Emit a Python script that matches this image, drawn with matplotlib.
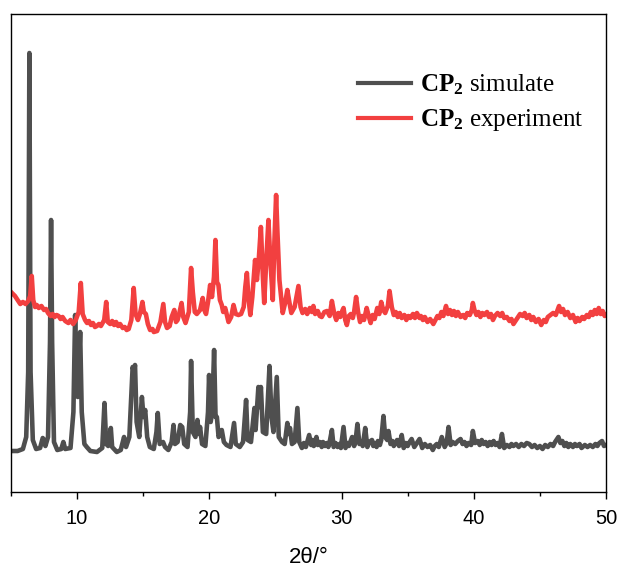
import numpy as np
import matplotlib
matplotlib.use('Agg')
import matplotlib.pyplot as plt

plt.rcParams['font.family'] = ['Liberation Sans', 'DejaVu Sans']
plt.rcParams['mathtext.fontset'] = 'custom'
plt.rcParams['mathtext.rm'] = 'Liberation Serif'
plt.rcParams['mathtext.bf'] = 'Liberation Serif:bold'

# simulated pattern (2theta, intensity a.u.)
sim_points = [
    (5.0, 41), (5.5, 41), (5.9, 43), (6.15, 55), (6.3, 120), (6.39, 439), (6.48, 120), (6.65, 52),
    (6.9, 43), (7.2, 44), (7.4, 54), (7.5, 52), (7.6, 46), (7.8, 55), (7.95, 150), (8.03, 272),
    (8.11, 150), (8.25, 50), (8.5, 42), (8.8, 43), (8.96, 50), (9.1, 43), (9.5, 44), (9.72, 80),
    (9.85, 177), (9.95, 110), (10.05, 95), (10.23, 160), (10.35, 80), (10.55, 48), (10.73, 45),
    (11.0, 41), (11.5, 40), (11.9, 44), (12.07, 89), (12.2, 48), (12.35, 46), (12.55, 64),
    (12.65, 45), (13.0, 40), (13.3, 42), (13.55, 55), (13.7, 45), (13.95, 55), (14.2, 125),
    (14.3, 120), (14.38, 127), (14.5, 70), (14.7, 55), (14.9, 95), (15.02, 75), (15.15, 82),
    (15.3, 55), (15.5, 45), (15.8, 43), (16.0, 60), (16.1, 79), (16.25, 48), (16.5, 50),
    (16.65, 45), (16.9, 42), (17.15, 50), (17.29, 67), (17.4, 48), (17.6, 50), (17.8, 67),
    (17.95, 65), (18.1, 48), (18.35, 45), (18.55, 80), (18.62, 131), (18.75, 60), (18.95, 55),
    (19.1, 72), (19.2, 58), (19.3, 65), (19.45, 48), (19.7, 46), (19.9, 80), (19.98, 117),
    (20.1, 70), (20.22, 80), (20.36, 142), (20.47, 75), (20.57, 75), (20.7, 55), (20.94, 62),
    (21.1, 50), (21.3, 47), (21.6, 45), (21.87, 69), (22.0, 48), (22.3, 45), (22.55, 50),
    (22.78, 92), (22.9, 52), (23.15, 50), (23.41, 84), (23.5, 62), (23.71, 105), (23.8, 85),
    (23.9, 105), (24.05, 60), (24.3, 58), (24.55, 126), (24.7, 75), (24.85, 60), (25.1, 115),
    (25.25, 55), (25.5, 50), (25.7, 48), (25.9, 69), (26.0, 58), (26.1, 64), (26.25, 48),
    (26.45, 50), (26.66, 84), (26.8, 50), (27.0, 44), (27.15, 49), (27.3, 45), (27.55, 57),
    (27.7, 47), (27.8, 52), (27.9, 46), (28.1, 55), (28.2, 47), (28.35, 50), (28.5, 45),
    (28.6, 50), (28.75, 46), (28.9, 49), (29.0, 45), (29.1, 50), (29.27, 62), (29.4, 45),
    (29.55, 49), (29.7, 45), (29.85, 48), (29.95, 44), (30.15, 65), (30.3, 44), (30.45, 49),
    (30.55, 46), (30.8, 55), (30.95, 46), (31.05, 50), (31.2, 68), (31.35, 48), (31.5, 50),
    (31.6, 46), (31.79, 64), (31.95, 45), (32.1, 50), (32.3, 52), (32.4, 46), (32.5, 49),
    (32.65, 45), (32.75, 51), (32.9, 47), (33.0, 52), (33.17, 76), (33.3, 55), (33.45, 52),
    (33.55, 61), (33.7, 48), (33.85, 51), (33.95, 46), (34.2, 52), (34.35, 46), (34.55, 57),
    (34.7, 44), (34.85, 49), (35.0, 46), (35.15, 50), (35.3, 53), (35.5, 45), (35.7, 49),
    (35.9, 53), (36.1, 44), (36.3, 48), (36.5, 45), (36.7, 47), (36.9, 42), (37.05, 46),
    (37.2, 48), (37.35, 45), (37.58, 55), (37.8, 45), (37.95, 49), (38.09, 65), (38.25, 47),
    (38.4, 50), (38.6, 48), (38.8, 51), (39.0, 53), (39.15, 48), (39.3, 50), (39.45, 46),
    (39.6, 49), (39.8, 47), (39.93, 61), (40.1, 49), (40.3, 51), (40.45, 47), (40.6, 52),
    (40.75, 48), (40.9, 50), (41.05, 46), (41.2, 50), (41.35, 47), (41.5, 51), (41.65, 47),
    (41.8, 49), (41.95, 45), (42.13, 58), (42.3, 44), (42.5, 47), (42.7, 45), (42.85, 48),
    (43.0, 46), (43.2, 48), (43.4, 45), (43.6, 48), (43.8, 46), (44.0, 49), (44.2, 48),
    (44.4, 45), (44.6, 47), (44.8, 44), (45.0, 46), (45.2, 43), (45.4, 47), (45.6, 45),
    (45.8, 48), (46.0, 46), (46.15, 50), (46.4, 55), (46.55, 49), (46.7, 51), (46.85, 46),
    (47.0, 49), (47.15, 45), (47.3, 48), (47.5, 45), (47.65, 48), (47.8, 46), (48.0, 48),
    (48.15, 44), (48.4, 47), (48.6, 45), (48.8, 47), (49.0, 45), (49.2, 48), (49.35, 46),
    (49.5, 49), (49.7, 51), (49.85, 46), (50.0, 47),
]

# experimental pattern (2theta, intensity a.u., offset)
exp_points = [
    (5.0, 200), (5.3, 196), (5.5, 192), (5.7, 188), (5.9, 190), (6.1, 188), (6.3, 191), (6.45, 196),
    (6.57, 216), (6.68, 192), (6.82, 185), (6.95, 187), (7.1, 184), (7.3, 186), (7.5, 182),
    (7.65, 183), (7.8, 179), (8.0, 176), (8.15, 178), (8.3, 175), (8.45, 177), (8.6, 176),
    (8.75, 173), (8.9, 175), (9.1, 171), (9.34, 169), (9.5, 172), (9.7, 168), (9.9, 172),
    (10.12, 180), (10.28, 209), (10.42, 178), (10.6, 172), (10.75, 169), (10.9, 171), (11.05, 167),
    (11.2, 169), (11.35, 165), (11.49, 166), (11.65, 168), (11.8, 166), (12.05, 172), (12.2, 190),
    (12.32, 170), (12.5, 168), (12.65, 171), (12.8, 167), (12.95, 170), (13.1, 166), (13.25, 168),
    (13.45, 164), (13.6, 165), (13.75, 162), (13.9, 163), (14.1, 172), (14.28, 204), (14.42, 178),
    (14.6, 172), (14.75, 178), (14.94, 190), (15.05, 180), (15.2, 178), (15.35, 168), (15.52, 162),
    (15.7, 163), (15.8, 160), (16.05, 161), (16.3, 170), (16.52, 188), (16.65, 170), (16.8, 164),
    (17.0, 166), (17.15, 175), (17.35, 182), (17.48, 170), (17.6, 172), (17.75, 180), (17.9, 189),
    (18.03, 175), (18.2, 169), (18.45, 180), (18.62, 224), (18.75, 200), (18.9, 180), (19.05, 178),
    (19.3, 182), (19.5, 194), (19.62, 182), (19.75, 178), (19.9, 190), (20.06, 207), (20.2, 195),
    (20.35, 215), (20.46, 252), (20.58, 210), (20.69, 207), (20.8, 192), (20.94, 187), (21.05, 180),
    (21.2, 184), (21.45, 170), (21.65, 175), (21.83, 187), (22.0, 178), (22.2, 177), (22.4, 178),
    (22.6, 185), (22.72, 205), (22.84, 219), (22.95, 195), (23.1, 177), (23.25, 195), (23.46, 232),
    (23.6, 212), (23.75, 235), (23.9, 265), (24.05, 215), (24.15, 189), (24.3, 230), (24.47, 272),
    (24.6, 235), (24.8, 192), (24.92, 250), (25.05, 297), (25.15, 260), (25.3, 212), (25.55, 179),
    (25.75, 190), (25.9, 202), (26.05, 190), (26.2, 179), (26.45, 185), (26.74, 206), (26.9, 185),
    (27.05, 179), (27.25, 183), (27.4, 178), (27.6, 184), (27.75, 180), (27.87, 186), (28.0, 178),
    (28.2, 181), (28.35, 176), (28.5, 175), (28.7, 180), (28.9, 181), (29.1, 176), (29.27, 191),
    (29.45, 178), (29.6, 172), (29.75, 179), (29.9, 175), (30.05, 181), (30.15, 184), (30.28, 172),
    (30.4, 167), (30.55, 176), (30.7, 178), (30.85, 174), (30.95, 180), (31.1, 195), (31.25, 180),
    (31.4, 170), (31.55, 176), (31.7, 172), (31.9, 184), (32.05, 176), (32.2, 169), (32.35, 177),
    (32.5, 173), (32.7, 184), (32.85, 178), (33.0, 190), (33.15, 182), (33.3, 179), (33.5, 186),
    (33.63, 201), (33.8, 185), (33.95, 177), (34.1, 180), (34.25, 175), (34.4, 179), (34.55, 174),
    (34.75, 177), (34.9, 172), (35.05, 176), (35.2, 174), (35.4, 178), (35.55, 174), (35.7, 179),
    (35.9, 174), (36.0, 176), (36.15, 172), (36.3, 175), (36.5, 170), (36.7, 173), (36.94, 168),
    (37.1, 172), (37.25, 176), (37.4, 174), (37.55, 180), (37.7, 176), (37.9, 186), (38.05, 178),
    (38.2, 182), (38.35, 177), (38.5, 181), (38.65, 176), (38.8, 180), (39.0, 175), (39.2, 177),
    (39.35, 174), (39.5, 179), (39.7, 177), (39.85, 182), (39.93, 189), (40.05, 182), (40.2, 177),
    (40.35, 180), (40.5, 175), (40.65, 179), (40.8, 177), (41.0, 180), (41.15, 175), (41.3, 178),
    (41.45, 172), (41.6, 176), (41.8, 179), (42.0, 176), (42.15, 179), (42.3, 174), (42.5, 175),
    (42.7, 171), (42.85, 173), (43.0, 168), (43.2, 172), (43.35, 175), (43.5, 178), (43.7, 176),
    (43.85, 179), (44.0, 174), (44.2, 177), (44.35, 172), (44.5, 175), (44.7, 170), (44.9, 173),
    (45.1, 167), (45.3, 172), (45.45, 170), (45.6, 175), (45.8, 177), (46.0, 179), (46.2, 177),
    (46.45, 186), (46.6, 180), (46.75, 183), (46.9, 177), (47.1, 180), (47.3, 174), (47.5, 177),
    (47.7, 170), (47.85, 174), (48.0, 171), (48.2, 175), (48.35, 173), (48.55, 177), (48.7, 175),
    (48.85, 180), (49.0, 177), (49.15, 182), (49.3, 178), (49.45, 184), (49.6, 178), (49.75, 181),
    (49.9, 176), (50.0, 177),
]

x_ticks = [10, 20, 30, 40, 50]
x_minor = [5, 15, 25, 35, 45]

sim_x, sim_y = np.array(sim_points).T
exp_x, exp_y = np.array(exp_points).T

fig = plt.figure(figsize=(6.22, 5.72), dpi=100)
ax = fig.add_axes([11/622, 80/572, 595/622, 478/572])

ax.plot(sim_x, sim_y, color='#4f4f4f', lw=3.3, solid_joinstyle='round',
        label=r'$\mathbf{CP_2}$ simulate')
ax.plot(exp_x, exp_y, color='#f24040', lw=3.3, solid_joinstyle='round',
        label=r'$\mathbf{CP_2}$ experiment')

ax.set_xlim(5, 50)
ax.set_ylim(0, 478)
ax.set_xticks(x_ticks)
ax.set_xticks(x_minor, minor=True)
ax.set_yticks([])
ax.tick_params(axis='x', which='major', direction='out', length=5, width=1, labelsize=14.5, pad=7)
ax.tick_params(axis='x', which='minor', direction='out', length=3, width=1)
for s in ax.spines.values():
    s.set_linewidth(1)
ax.set_xlabel('2θ/°', fontsize=16, labelpad=14)

leg = ax.legend(loc='upper left', bbox_to_anchor=(0.583, 0.878), frameon=False,
                prop={'family': 'Liberation Serif', 'size': 18},
                handlelength=2.12, handletextpad=0.36, borderpad=0,
                borderaxespad=0, labelspacing=0.42)
for line in leg.get_lines():
    line.set_linewidth(3)

fig.savefig('out.png', dpi=100)
